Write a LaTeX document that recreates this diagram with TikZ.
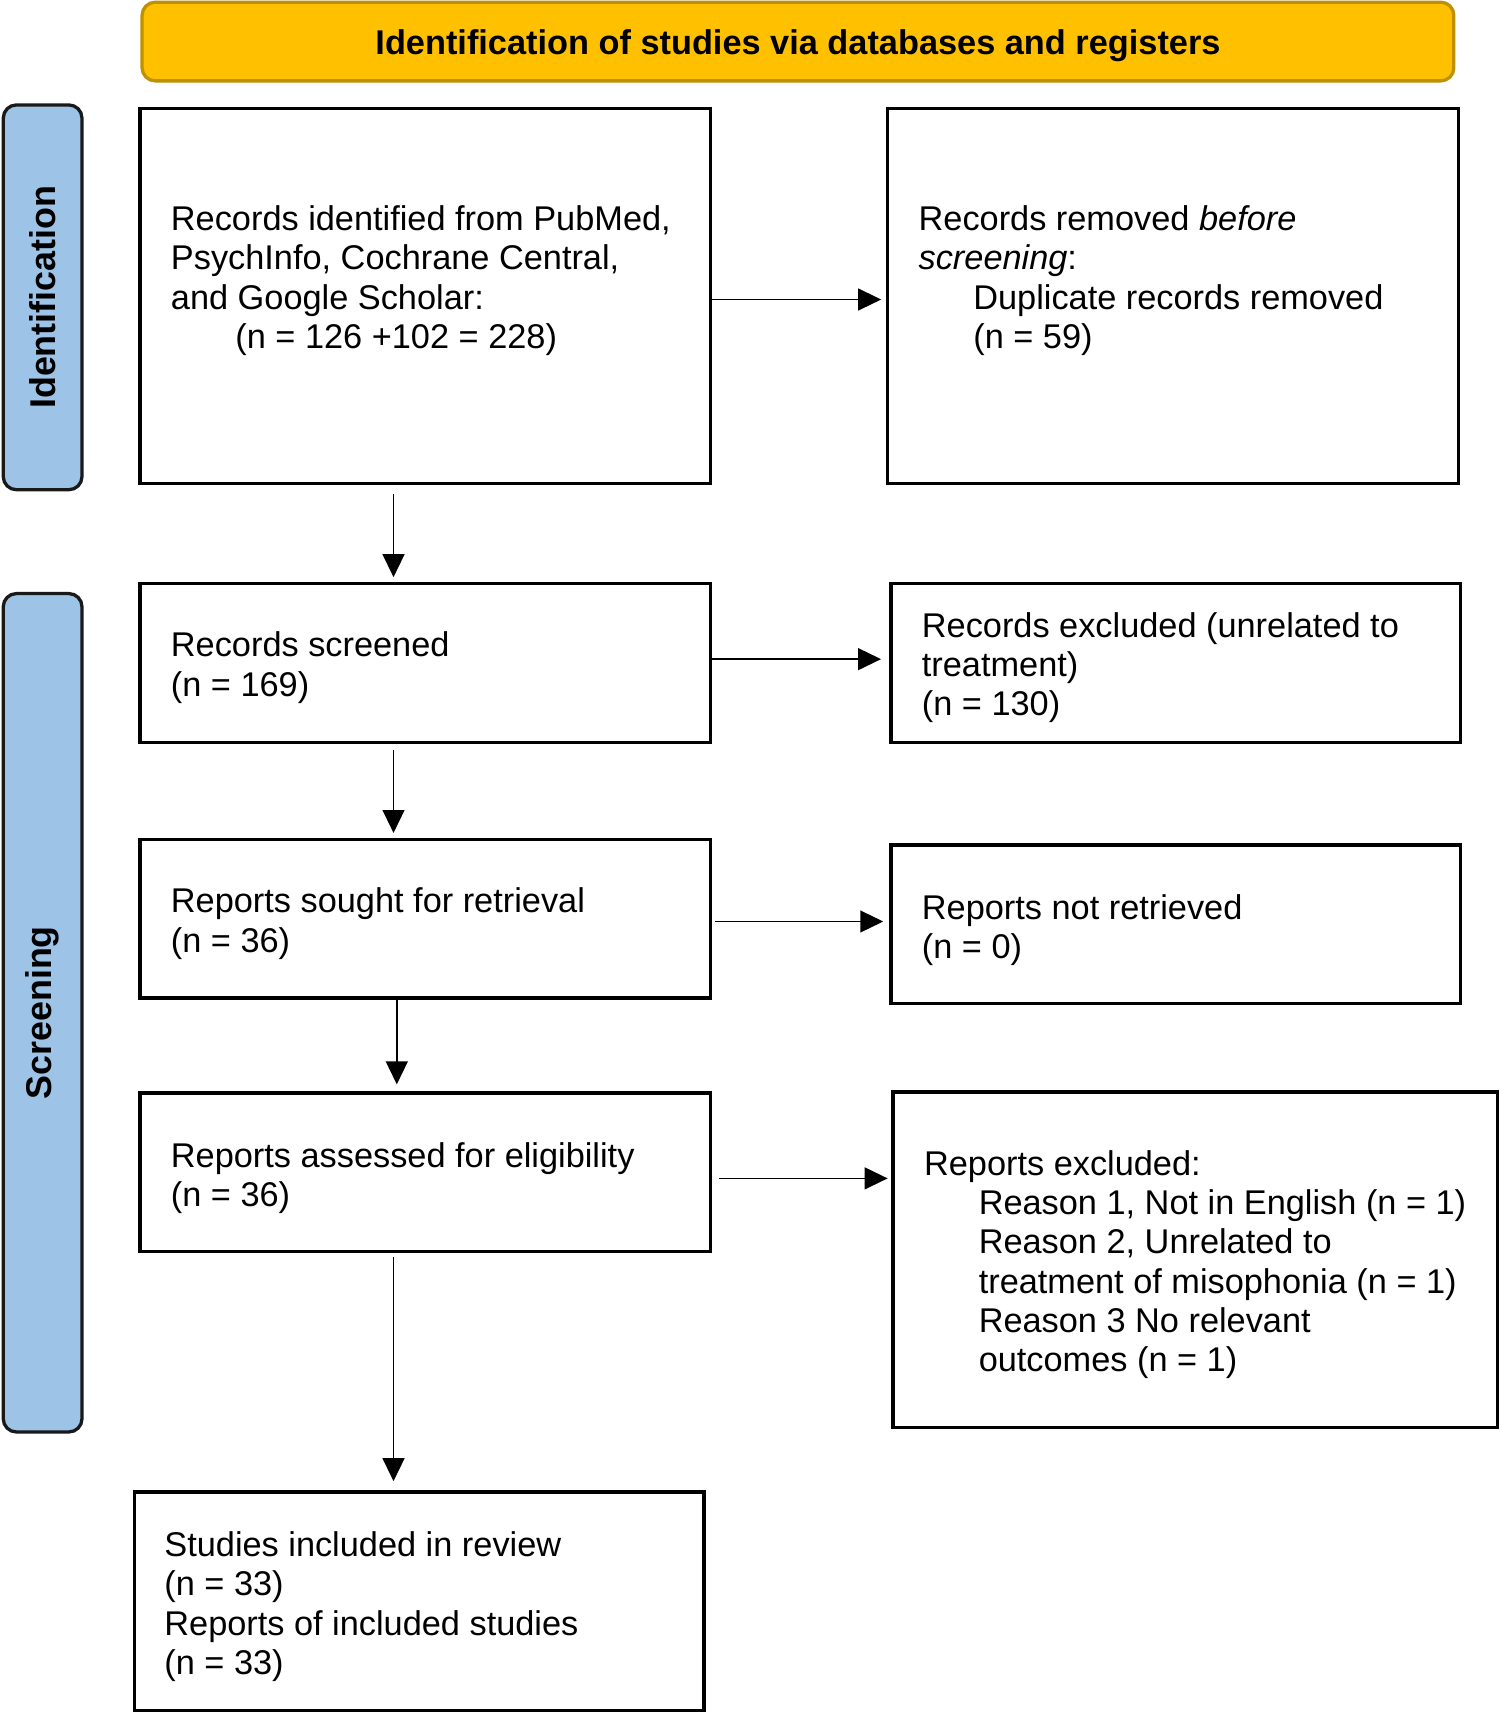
\documentclass[tikz,border=0pt]{standalone}
\usepackage{fontspec}
\setmainfont{Liberation Sans}
\usetikzlibrary{arrows.meta,fit}
\definecolor{hdrfill}{HTML}{FFC000}
\definecolor{hdrdraw}{HTML}{BF9000}
\definecolor{barfill}{HTML}{9DC3E6}
\newcommand{\ind}{\hspace*{25pt}}
\begin{document}
\begin{tikzpicture}[x=0.5pt,y=-0.5pt,
  box/.style={draw=black, line width=1.5pt, inner sep=0pt},
  txt/.style={anchor=base west, inner sep=0pt, font=\fontsize{15.7}{18}\selectfont},
  arr/.style={line width=0.75pt, -{Triangle[length=10.5pt,width=10pt]}},
  bar/.style={draw=black!90, fill=barfill, line width=1.5pt, rounded corners=6pt, inner sep=0pt},
  barlbl/.style={rotate=90, inner sep=0pt, font=\bfseries\fontsize{16.4}{18}\selectfont},
]
\useasboundingbox (0,0) rectangle (1372,1568);

% header
\node[fit={(130,2)(1330,74)}, draw=hdrdraw, fill=hdrfill, line width=1.5pt, rounded corners=6pt, inner sep=0pt] (hdr) {};
\node[anchor=base, inner sep=0pt, font=\bfseries\fontsize{15.7}{18}\selectfont] (hdrtxt) at (730,50) {Identification of studies via databases and registers};

% side bars
\node[bar, fit={(3,96)(75,448)}] (idbar) {};
\node[barlbl] (idlbl) at (idbar.center) {Identification};
\node[bar, fit={(3,543)(75,1310)}] (scbar) {};
\node[barlbl] (sclbl) at (scbar.center) {Screening};

% boxes
\node[box, fit={(128,99)(650,442)}] (b1) {};
\node[box, fit={(812,99)(1334,442)}] (b2) {};
\node[box, fit={(128,534)(650,679)}] (b3) {};
\node[box, fit={(815,534)(1336,679)}] (b4) {};
\node[box, fit={(128,768)(650,913)}] (b5) {};
\node[box, fit={(815,773)(1336,918)}] (b6) {};
\node[box, fit={(128,1000)(650,1145)}] (b7) {};
\node[box, fit={(817,999)(1370,1306)}] (b8) {};
\node[box, fit={(123,1365)(644,1565)}] (b9) {};

% texts
\node[txt] (t1) at (156,211) {\begin{tabular}[t]{@{}l@{}}Records identified from PubMed,\\PsychInfo, Cochrane Central,\\and Google Scholar:\\\hspace*{29.5pt}(n = 126 +102 = 228)\end{tabular}};
\node[txt] (t2) at (840,211) {\begin{tabular}[t]{@{}l@{}}Records removed \textit{before}\\\textit{screening}:\\\ind Duplicate records removed\\\ind (n = 59)\end{tabular}};
\node[txt] (t3) at (156,601) {\begin{tabular}[t]{@{}l@{}}Records screened\\(n = 169)\end{tabular}};
\node[txt] (t4) at (843,583) {\begin{tabular}[t]{@{}l@{}}Records excluded (unrelated to\\treatment)\\(n = 130)\end{tabular}};
\node[txt] (t5) at (156,835) {\begin{tabular}[t]{@{}l@{}}Reports sought for retrieval\\(n = 36)\end{tabular}};
\node[txt] (t6) at (843,841) {\begin{tabular}[t]{@{}l@{}}Reports not retrieved\\(n = 0)\end{tabular}};
\node[txt] (t7) at (156,1068) {\begin{tabular}[t]{@{}l@{}}Reports assessed for eligibility\\(n = 36)\end{tabular}};
\node[txt] (t8) at (845,1075) {\begin{tabular}[t]{@{}l@{}}Reports excluded:\\\ind Reason 1, Not in English (n = 1)\\\ind Reason 2, Unrelated to\\\ind treatment of misophonia (n = 1)\\\ind Reason 3 No relevant\\\ind outcomes (n = 1)\end{tabular}};
\node[txt] (t9) at (150,1424) {\begin{tabular}[t]{@{}l@{}}Studies included in review\\(n = 33)\\Reports of included studies\\(n = 33)\end{tabular}};

% horizontal arrows
\draw[arr, shorten >=2.2pt] ([yshift=-1.75pt]b1.east) -- ([yshift=-1.75pt]b1.east -| b2.west);
\draw[arr, shorten >=3.75pt] ([yshift=1.75pt]b3.east) -- ([yshift=1.75pt]b3.east -| b4.west);
\draw[arr, shorten <=1.25pt, shorten >=2.75pt] ([yshift=-1.25pt]b5.east) -- ([yshift=-1.25pt]b5.east -| b6.west);
\draw[arr, shorten <=3.25pt, shorten >=1.75pt] ([yshift=-2.75pt]b7.east) -- ([yshift=-2.75pt]b7.east -| b8.west);

% vertical arrows
\draw[arr, shorten <=4.25pt, shorten >=2.25pt] ([xshift=-14.5pt]b1.south) -- ([xshift=-14.5pt]b1.south |- b3.north);
\draw[arr, shorten <=2.75pt, shorten >=2.25pt] ([xshift=-14.5pt]b3.south) -- ([xshift=-14.5pt]b3.south |- b5.north);
\draw[arr, shorten >=3.25pt] ([xshift=-13pt]b5.south) -- ([xshift=-13pt]b5.south |- b7.north);
\draw[arr, shorten <=1.75pt, shorten >=4.25pt] ([xshift=-14.5pt]b7.south) -- ([xshift=-14.5pt]b7.south |- b9.north);
\end{tikzpicture}
\end{document}
